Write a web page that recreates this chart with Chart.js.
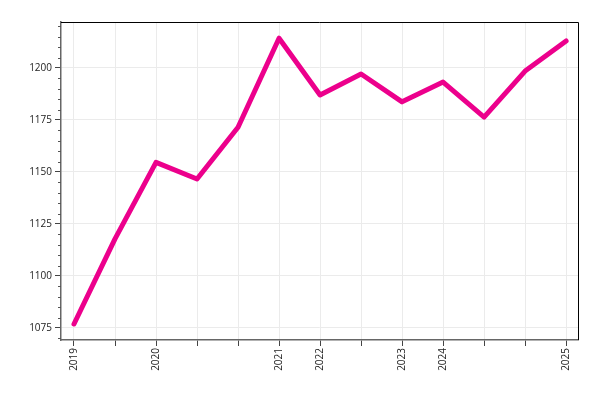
<!DOCTYPE html>
<html>
<head>
<meta charset="utf-8">
<script src="https://cdn.jsdelivr.net/npm/chart.js@4"></script>
<style>
html,body{margin:0;padding:0;background:#fff;}
#wrap{width:600px;height:400px;}
</style>
</head>
<body>
<div id="wrap"><canvas id="c" width="600" height="400"></canvas></div>
<script>
const xLabels = ['2019','','2020','','','2021','2022','','2023','2024','','','2025'];
const xPositions = [0,1,2,3,4,5,6,7,8,9,10,11,12];
const values = [1076.9,1117.8,1154.6,1146.6,1171.5,1214.3,1187.0,1197.1,1183.7,1193.2,1176.4,1198.5,1213.0];
const yMajorTicks = [1075,1100,1125,1150,1175,1200];
const yMinorTicks = [1070,1080,1085,1090,1095,1105,1110,1115,1120,1130,1135,1140,1145,1155,1160,1165,1170,1180,1185,1190,1195,1205,1210,1215,1220];

const frame = {
  id:'frame',
  afterDraw(chart){
    const {ctx, chartArea:a, scales} = chart;
    ctx.save();
    ctx.strokeStyle = '#000';
    ctx.lineWidth = 1;
    ctx.beginPath();
    ctx.moveTo(a.left, a.top + 0.5);
    ctx.lineTo(a.right + 0.5, a.top + 0.5);
    ctx.lineTo(a.right + 0.5, a.bottom);
    ctx.stroke();
    ctx.strokeStyle = '#555';
    ctx.beginPath();
    yMinorTicks.forEach(v=>{
      const y = Math.round(scales.y.getPixelForValue(v)) + 0.5;
      ctx.moveTo(a.left - 3, y);
      ctx.lineTo(a.left, y);
    });
    ctx.stroke();
    ctx.restore();
  }
};

new Chart(document.getElementById('c'), {
  type:'line',
  data:{
    datasets:[{
      data: xPositions.map((x,i)=>({x:x, y:values[i]})),
      borderColor:'#EC008C',
      borderWidth:5,
      pointRadius:0,
      tension:0,
      borderCapStyle:'round',
      borderJoinStyle:'round',
      fill:false
    }]
  },
  options:{
    responsive:false,
    animation:false,
    devicePixelRatio:1,
    layout:{padding:{top:22,right:22,left:0,bottom:0}},
    plugins:{legend:{display:false},tooltip:{enabled:false}},
    scales:{
      x:{
        type:'linear',
        min:-0.317,
        max:12.29,
        afterBuildTicks(s){ s.ticks = xPositions.map(v=>({value:v})); },
        afterFit(s){ s.height = 60; },
        ticks:{
          autoSkip:false,
          maxRotation:90,
          minRotation:90,
          padding:2,
          color:'#222',
          font:{family:'"Open Sans", sans-serif', size:10},
          callback:(v)=> xLabels[Math.round(v)] ?? ''
        },
        grid:{color:'#ebebeb', lineWidth:1, tickLength:6, tickColor:'#444', drawTicks:true},
        border:{color:'#666', width:1.5}
      },
      y:{
        type:'linear',
        min:1069.2,
        max:1222.1,
        afterBuildTicks(s){ s.ticks = yMajorTicks.map(v=>({value:v})); },
        afterFit(s){ s.width = 61; },
        ticks:{
          padding:3,
          color:'#222',
          font:{family:'"Open Sans", sans-serif', size:10},
          callback:(v)=> String(v)
        },
        grid:{color:'#ebebeb', lineWidth:1, tickLength:6, tickColor:'#444'},
        border:{color:'#666', width:1.5}
      }
    }
  },
  plugins:[frame]
});
</script>
</body>
</html>
